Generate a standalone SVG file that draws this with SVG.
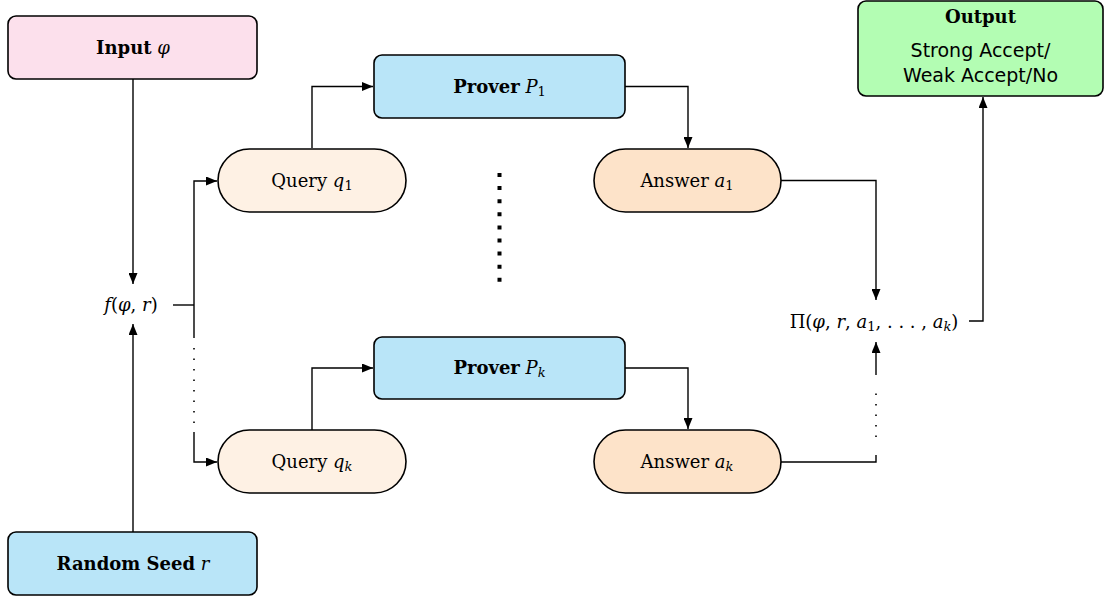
<svg xmlns="http://www.w3.org/2000/svg" width="1104" height="601" viewBox="0 0 1104 601">
<style>
.box{stroke:#000;stroke-width:1.6}
.t{font-family:"DejaVu Serif","Liberation Serif",serif;font-size:18px;fill:#000;text-anchor:middle}
.b{font-weight:bold}
.i{font-style:italic}
.s{font-family:"DejaVu Sans","Liberation Sans",sans-serif;font-size:19px;fill:#000;text-anchor:middle}
.c{fill:none;stroke:#000;stroke-width:1.4}
.d{fill:none;stroke:#000;stroke-width:1.6;stroke-dasharray:1.6 8.9}
</style>
<defs>
<marker id="ah" viewBox="0 0 11 9" refX="11" refY="4.5" markerWidth="11" markerHeight="9" markerUnits="userSpaceOnUse" orient="auto">
<path d="M0,0 L11,4.5 L0,9 Z" fill="#000"/>
</marker>
</defs>
<g id="connectors">
<path class="c" d="M133,79 V284" marker-end="url(#ah)"/>
<path class="c" d="M133,532 V324" marker-end="url(#ah)"/>
<path class="c" d="M173,305 H194"/>
<path class="c" d="M194,338 V181 H217" marker-end="url(#ah)"/>
<path class="d" d="M194,348 V424"/>
<path class="c" d="M194,432 V462 H217" marker-end="url(#ah)"/>
<path class="c" d="M312,148 V86.5 H373" marker-end="url(#ah)"/>
<path class="c" d="M312,430 V368 H373" marker-end="url(#ah)"/>
<path class="c" d="M625,86.5 H688 V148" marker-end="url(#ah)"/>
<path class="c" d="M625,368 H688 V429" marker-end="url(#ah)"/>
<path class="c" d="M781,180.5 H876 V300" marker-end="url(#ah)"/>
<path class="c" d="M781,462 H876 V455"/>
<path class="d" d="M876,437 V390"/>
<path class="c" d="M876,375 V342" marker-end="url(#ah)"/>
<path class="c" d="M969,321 H983 V97" marker-end="url(#ah)"/>
<line x1="499.5" y1="173" x2="499.5" y2="283" stroke="#000" stroke-width="4" stroke-dasharray="4 9.1"/>
</g>
<g id="input">
<rect class="box" x="8" y="16" width="249" height="63" rx="8" fill="#fce0ec"/>
<text class="t" x="133" y="54"><tspan class="b">Input</tspan> <tspan class="i">φ</tspan></text>
</g>
<g id="seed">
<rect class="box" x="8" y="532" width="249" height="63" rx="8" fill="#b9e5f8"/>
<text class="t" x="133" y="570"><tspan class="b">Random Seed</tspan> <tspan class="i">r</tspan></text>
</g>
<g id="f">
<text class="t" x="131" y="311"><tspan class="i">f</tspan>(<tspan class="i">φ</tspan>, <tspan class="i">r</tspan>)</text>
</g>
<g id="query1">
<rect class="box" x="218" y="149" width="188" height="63" rx="31.5" fill="#fef1e4"/>
<text class="t" x="312" y="187">Query <tspan class="i">q</tspan><tspan font-size="13" dy="3">1</tspan></text>
</g>
<g id="queryk">
<rect class="box" x="218" y="430" width="188" height="63" rx="31.5" fill="#fef1e4"/>
<text class="t" x="312" y="468">Query <tspan class="i">q</tspan><tspan class="i" font-size="13" dy="3">k</tspan></text>
</g>
<g id="prover1">
<rect class="box" x="374" y="55" width="251" height="63" rx="8" fill="#b9e5f8"/>
<text class="t" x="499.5" y="93"><tspan class="b">Prover</tspan> <tspan class="i">P</tspan><tspan font-size="13" dy="3">1</tspan></text>
</g>
<g id="proverk">
<rect class="box" x="374" y="337" width="251" height="62" rx="8" fill="#b9e5f8"/>
<text class="t" x="499.5" y="374"><tspan class="b">Prover</tspan> <tspan class="i">P</tspan><tspan class="i" font-size="13" dy="3">k</tspan></text>
</g>
<g id="answer1">
<rect class="box" x="594" y="149" width="187" height="63" rx="31.5" fill="#fde3c9"/>
<text class="t" x="687" y="187">Answer <tspan class="i">a</tspan><tspan font-size="13" dy="3">1</tspan></text>
</g>
<g id="answerk">
<rect class="box" x="594" y="430" width="187" height="63" rx="31.5" fill="#fde3c9"/>
<text class="t" x="687" y="468">Answer <tspan class="i">a</tspan><tspan class="i" font-size="13" dy="3">k</tspan></text>
</g>
<g id="pi">
<text class="t" x="874" y="328">Π(<tspan class="i">φ</tspan>, <tspan class="i">r</tspan>, <tspan class="i">a</tspan><tspan font-size="13" dy="3">1</tspan><tspan dy="-3">, . . . , </tspan><tspan class="i">a</tspan><tspan class="i" font-size="13" dy="3">k</tspan><tspan dy="-3">)</tspan></text>
</g>
<g id="output">
<rect class="box" x="858" y="1" width="245" height="95" rx="8" fill="#b3fdb3"/>
<text class="t b" x="980.5" y="23">Output</text>
<text class="s" x="980.5" y="57">Strong Accept/</text>
<text class="s" x="980.5" y="82">Weak Accept/No</text>
</g>
</svg>
